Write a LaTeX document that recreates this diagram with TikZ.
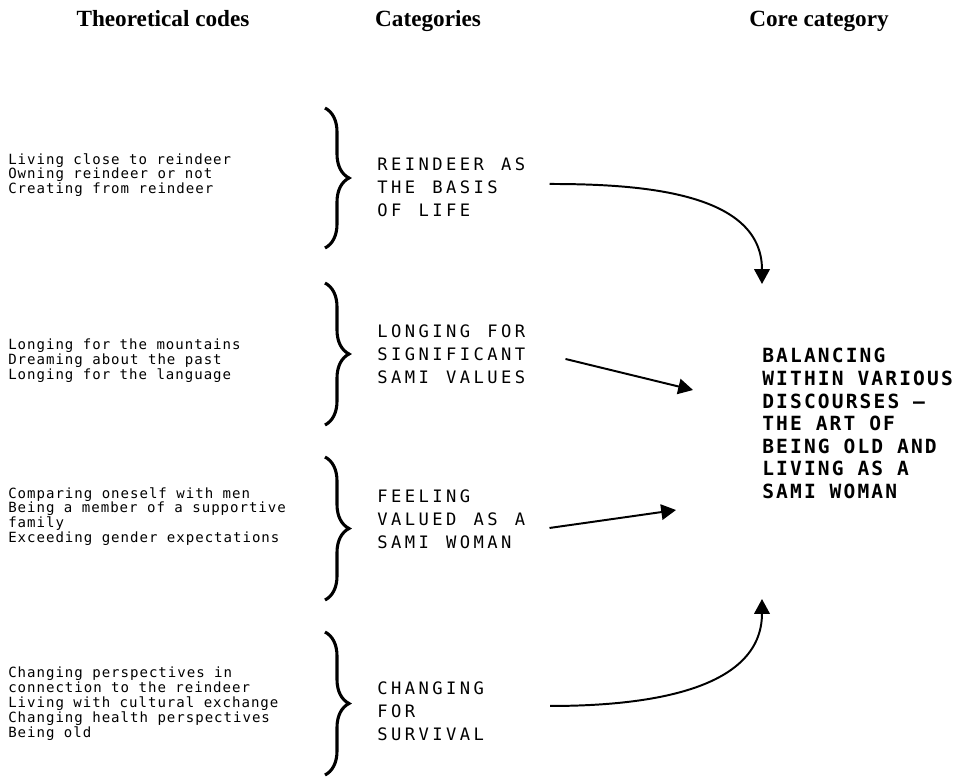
\documentclass[tikz,border=0pt]{standalone}
\usepackage{fontspec, tikz}
\usetikzlibrary{positioning}
\usetikzlibrary{calc}
\usetikzlibrary{arrows.meta}
\usetikzlibrary{decorations.pathreplacing}
\setmainfont{Liberation Serif}
\newfontfamily\codefont[LetterSpace=7]{DejaVu Sans Mono}
\newfontfamily\catfont[LetterSpace=20, WordSpace=1.25]{DejaVu Sans Mono}
\newfontfamily\corefont[LetterSpace=11]{DejaVu Sans Mono}

\begin{document}
\begin{tikzpicture}
    [x=0.025cm, y=-0.025cm,
    head/.style={font=\fontsize{16.5}{19}\selectfont\bfseries, inner sep=0pt, anchor=base},
    code/.style={font=\codefont\fontsize{10}{10.6}\selectfont, align=left, inner sep=0pt, anchor=north west},
    categ/.style={font=\catfont\fontsize{12.2}{16.5}\selectfont, align=left, inner sep=0pt, anchor=north west},
    core/.style={font=\corefont\bfseries\fontsize{13.9}{16.1}\selectfont, align=left, inner sep=0pt, anchor=north west},
    grp/.style={decorate, decoration={brace, amplitude=0.6cm}, line width=2.2pt},
    flow/.style={-{Triangle[length=10.5pt, width=11pt]}, line width=1.4pt}]
     \useasboundingbox (0,0) rectangle (962,777);
     %\draw[step=50,gray,very thin] (0,0) grid (962,777);
     \node[head] (hcodes) at (163, 26)     {Theoretical codes};
     \node[head] (hcat)   at (428, 26)     {Categories};
     \node[head] (hcore)  at (819, 26)     {Core category};
     \node[code] (c1) at (8, 153)    {Living close to reindeer\\Owning reindeer or not\\Creating from reindeer};
     \node[code] (c2) at (8, 339)    {Longing for the mountains\\Dreaming about the past\\Longing for the language};
     \node[code] (c3) at (8, 487)    {Comparing oneself with men\\Being a member of a supportive\\family\\Exceeding gender expectations};
     \node[code] (c4) at (8, 667)    {Changing perspectives in\\connection to the reindeer\\Living with cultural exchange\\Changing health perspectives\\Being old};
     \draw[grp] (325, 108) -- (325, 248);
     \draw[grp] (325, 283) -- (325, 425);
     \draw[grp] (325, 457) -- (325, 600);
     \draw[grp] (325, 632) -- (325, 775);
     \node[categ] (k1) at (377, 157)  {REINDEER AS\\THE BASIS\\OF LIFE};
     \node[categ] (k2) at (377, 324)  {LONGING FOR\\SIGNIFICANT\\SAMI VALUES};
     \node[categ] (k3) at (377, 489)  {FEELING\\VALUED AS A\\SAMI WOMAN};
     \node[categ] (k4) at (377, 681)  {CHANGING\\FOR\\SURVIVAL};
     \node[core] (bal) at (762, 348)  {BALANCING\\WITHIN VARIOUS\\DISCOURSES –\\THE ART OF\\BEING OLD AND\\LIVING AS A\\SAMI WOMAN};
     \coordinate (in1) at (762, 284);
     \coordinate (in2) at (693, 390);
     \coordinate (in3) at (676, 510);
     \coordinate (in4) at (762, 599);
     \draw[flow] ($(k1.east)+(24,-3)$) to[out=0, in=90] (in1);
     \draw[flow] ($(k2.east)+(40,5)$) -- (in2);
     \draw[flow] ($(k3.east)+(24,9)$) -- (in3);
     \draw[flow] ($(k4.east)+(66,-5)$) to[out=0, in=-90] (in4);
\end{tikzpicture}
\end{document}
